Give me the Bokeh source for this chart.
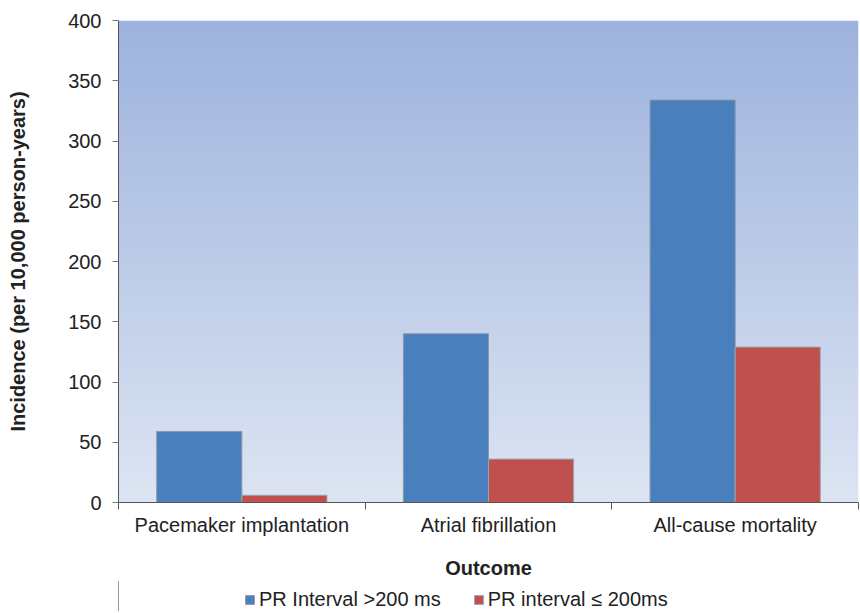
import numpy as np
from bokeh.plotting import figure
from bokeh.layouts import column
from bokeh.models import FixedTicker, Legend, LegendItem, Range1d
from bokeh.embed import file_html
from bokeh.resources import INLINE

categories = ["Pacemaker implantation", "Atrial fibrillation", "All-cause mortality"]
series_names = ["PR Interval >200 ms", "PR interval \u2264 200ms"]
pr_over_200 = [59, 140, 334]
pr_under_200 = [6, 36, 129]
y_ticks = [0, 50, 100, 150, 200, 250, 300, 350, 400]

colors = ["#4A7FBD", "#C0504D"]
FONT = "Liberation Sans"
FS = "20px"

p = figure(frame_width=740, frame_height=482, output_backend="svg", toolbar_location=None,
           x_range=Range1d(0, 3), y_range=Range1d(0, 400),
           min_border_left=118, min_border_right=2, min_border_top=20, min_border_bottom=0)
p.outline_line_color = None
p.grid.visible = False
p.background_fill_color = "#ffffff"
p.border_fill_color = "#ffffff"

# vertical gradient background in plot area
n = 256
top = np.array([157, 178, 221], dtype=float)
bot = np.array([221, 229, 243], dtype=float)
t = np.linspace(0, 1, n)[:, None]
rgb = bot + (top - bot) * t
img = np.zeros((n, 1), dtype=np.uint32)
view = img.view(dtype=np.uint8).reshape((n, 1, 4))
view[:, 0, 0] = rgb[:, 0].astype(np.uint8)
view[:, 0, 1] = rgb[:, 1].astype(np.uint8)
view[:, 0, 2] = rgb[:, 2].astype(np.uint8)
view[:, 0, 3] = 255
p.image_rgba(image=[img], x=0, y=0, dw=3, dh=400)

idx = np.arange(len(categories)) + 0.5
bw = 0.345
p.vbar(x=idx - bw / 2, top=pr_over_200, width=bw, fill_color=colors[0],
       line_color="#8A98A8", line_width=1)
p.vbar(x=idx + bw / 2, top=pr_under_200, width=bw, fill_color=colors[1],
       line_color="#9AA4B0", line_width=1)

# y axis
ya = p.yaxis[0]
ya.ticker = FixedTicker(ticks=y_ticks, minor_ticks=[])
ya.axis_label = "Incidence (per 10,000 person-years)"
ya.axis_label_text_font = FONT
ya.axis_label_text_font_style = "bold"
ya.axis_label_text_font_size = FS
ya.axis_label_text_color = "#222222"
ya.axis_label_standoff = 36
ya.major_label_text_font = FONT
ya.major_label_text_font_size = FS
ya.major_label_text_color = "#222222"
ya.major_label_standoff = 11
ya.major_tick_out = 6
ya.major_tick_in = 0
ya.minor_tick_out = 0
ya.minor_tick_in = 0
ya.axis_line_color = "#555555"
ya.major_tick_line_color = "#777777"

# x axis
xa = p.xaxis[0]
xa.ticker = FixedTicker(ticks=list(idx), minor_ticks=list(range(len(categories) + 1)))
xa.major_label_overrides = {float(v): c for v, c in zip(idx, categories)}
xa.axis_label = "Outcome"
xa.axis_label_text_font = FONT
xa.axis_label_text_font_style = "bold"
xa.axis_label_text_font_size = FS
xa.axis_label_text_color = "#222222"
xa.axis_label_standoff = 18
xa.major_label_text_font = FONT
xa.major_label_text_font_size = FS
xa.major_label_text_color = "#222222"
xa.major_label_standoff = 4
xa.major_tick_out = 0
xa.major_tick_in = 0
xa.minor_tick_out = 7
xa.minor_tick_in = 0
xa.axis_line_color = "#555555"
xa.minor_tick_line_color = "#555555"

# legend strip below the chart (its bars lie outside its visible range; only the legend shows)
p2 = figure(width=860, height=30, output_backend="svg", toolbar_location=None,
            x_range=Range1d(10, 11), y_range=Range1d(0, 1),
            x_axis_location=None, y_axis_location=None, min_border=0)
p2.outline_line_color = None
p2.grid.visible = False
p2.background_fill_color = "#ffffff"
p2.border_fill_color = "#ffffff"
k1 = p2.vbar(x=idx - bw / 2, top=pr_over_200, width=bw, fill_color=colors[0],
             line_color="#8A98A8")
k2 = p2.vbar(x=idx + bw / 2, top=pr_under_200, width=bw, fill_color=colors[1],
             line_color="#9AA4B0")
legend = Legend(items=[LegendItem(label=series_names[0], renderers=[k1]),
                       LegendItem(label=series_names[1], renderers=[k2])],
                orientation="horizontal", location=(126, 0),
                label_text_font=FONT, label_text_font_size=FS, label_text_color="#222222",
                glyph_width=11, glyph_height=11, spacing=32, label_standoff=4,
                label_height=18, border_line_color=None, background_fill_alpha=0,
                padding=0, margin=0)
p2.add_layout(legend)

layout = column(p, p2, spacing=0)
open("out.html", "w").write(file_html(layout, INLINE))
